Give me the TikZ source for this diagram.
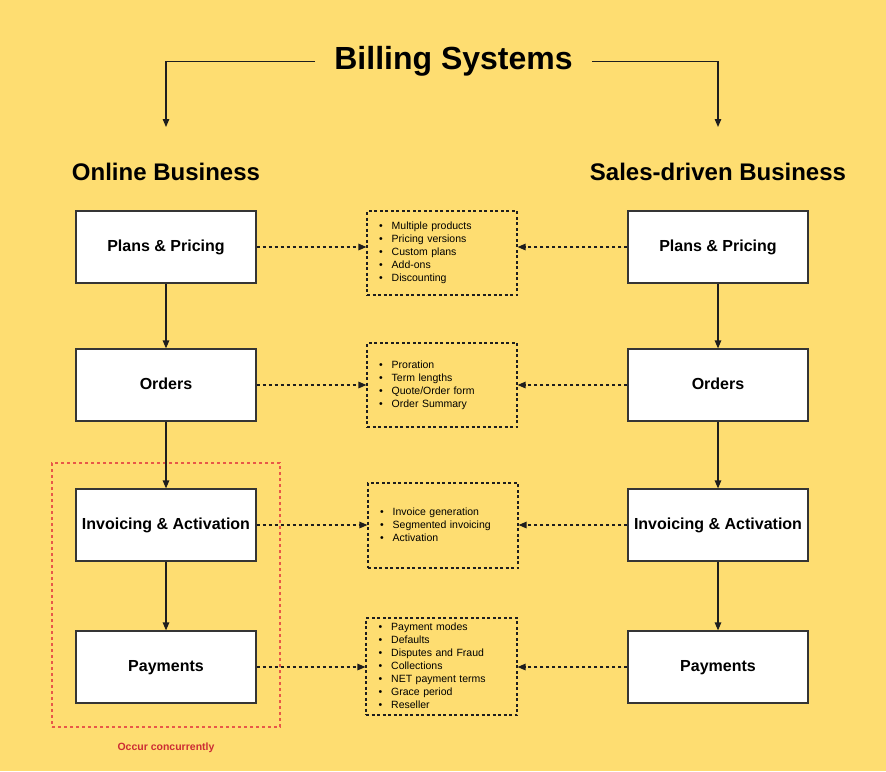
\documentclass[tikz,border=0pt]{standalone}
\usepackage{fontspec}
\setmainfont{Liberation Sans}
\usetikzlibrary{arrows.meta}
\definecolor{canvas}{RGB}{254,221,113}
\definecolor{ink}{RGB}{30,30,30}
\definecolor{frame}{RGB}{232,88,72}
\definecolor{note}{RGB}{204,44,52}
\newcommand{\bulletlist}[1]{\begin{tabular}{@{}l@{\hspace{9pt}}l@{}}#1\end{tabular}}
\begin{document}
\begin{tikzpicture}[x=1pt,y=-1pt,
  stage/.style={draw=ink!90, line width=1.2pt, fill=white, minimum width=180pt,
    minimum height=72pt, inner sep=0pt, text height=11.7pt, text depth=3.4pt,
    font=\fontsize{16}{19}\selectfont\bfseries},
  heading/.style={anchor=base, font=\fontsize{24}{28}\selectfont\bfseries},
  notebox/.style={draw=ink, dash pattern=on 3pt off 2.5pt, line width=1.1pt,
    minimum width=150pt, inner xsep=12pt, inner ysep=0pt, text width=126pt,
    align=left, font=\fontsize{10.5}{13}\selectfont},
  flow/.style={draw=ink, line width=1.2pt, -{Triangle[length=8pt,width=6.5pt]}},
  link/.style={flow, dash pattern=on 3pt off 3pt}
]
% background and page size
\fill[canvas] (0,0) rectangle (886,771);
\useasboundingbox (0,0) rectangle (886,771);

% concurrency frame
\node[draw=frame, dash pattern=on 3pt off 3pt, line width=1.1pt,
  minimum width=228pt, minimum height=264pt, inner sep=0pt] (concur) at (166,595) {};
\node[text=note, font=\fontsize{10.5}{13}\selectfont\bfseries] (concurlbl) at (166,747.5) {Occur concurrently};

% title and the two branches
\node[anchor=base, inner xsep=19pt, font=\fontsize{32}{38}\selectfont\bfseries] (title) at (453.5,69.5) {Billing Systems};
\coordinate (lend) at (166,127);
\coordinate (rend) at (718,127);
\draw[flow] (title.west) -| (lend);
\draw[flow] (title.east) -| (rend);

\node[heading] (online) at (166,180) {Online Business};
\node[heading] (sales) at (718,180) {Sales-driven Business};

% online business flow
\node[stage] (lplans) at (166,247) {Plans \& Pricing};
\node[stage] (lorders) at (166,385) {Orders};
\node[stage] (linv) at (166,525) {Invoicing \& Activation};
\node[stage] (lpay) at (166,667) {Payments};

% sales-driven business flow
\node[stage] (rplans) at (718,247) {Plans \& Pricing};
\node[stage] (rorders) at (718,385) {Orders};
\node[stage] (rinv) at (718,525) {Invoicing \& Activation};
\node[stage] (rpay) at (718,667) {Payments};

% shared details
\node[notebox, minimum height=84pt] (nplans) at (442,253) {\bulletlist{
  \textbullet & Multiple products\\ \textbullet & Pricing versions\\
  \textbullet & Custom plans\\ \textbullet & Add-ons\\ \textbullet & Discounting}};
\node[notebox, minimum height=84pt] (norders) at (442,385) {\bulletlist{
  \textbullet & Proration\\ \textbullet & Term lengths\\
  \textbullet & Quote/Order form\\ \textbullet & Order Summary}};
\node[notebox, minimum height=85pt] (ninv) at (443,525.5) {\bulletlist{
  \textbullet & Invoice generation\\ \textbullet & Segmented invoicing\\
  \textbullet & Activation}};
\node[notebox, minimum height=97pt, minimum width=151pt] (npay) at (441.5,666.5) {\bulletlist{
  \textbullet & Payment modes\\ \textbullet & Defaults\\
  \textbullet & Disputes and Fraud\\ \textbullet & Collections\\
  \textbullet & NET payment terms\\ \textbullet & Grace period\\
  \textbullet & Reseller}};

% vertical flow arrows
\draw[flow] (lplans) -- (lorders);
\draw[flow] (lorders) -- (linv);
\draw[flow] (linv) -- (lpay);
\draw[flow] (rplans) -- (rorders);
\draw[flow] (rorders) -- (rinv);
\draw[flow] (rinv) -- (rpay);

% links to the shared details
\draw[link] (lplans.east) -- (lplans.east -| nplans.west);
\draw[link] (rplans.west) -- (rplans.west -| nplans.east);
\draw[link] (lorders.east) -- (nplans.west |- lorders.east);
\draw[link] (rorders.west) -- (norders.east |- rorders.west);
\draw[link] (linv.east) -- (ninv.west |- linv.east);
\draw[link] (rinv.west) -- (ninv.east |- rinv.west);
\draw[link] (lpay.east) -- (npay.west |- lpay.east);
\draw[link] (rpay.west) -- (npay.east |- rpay.west);
\end{tikzpicture}
\end{document}
